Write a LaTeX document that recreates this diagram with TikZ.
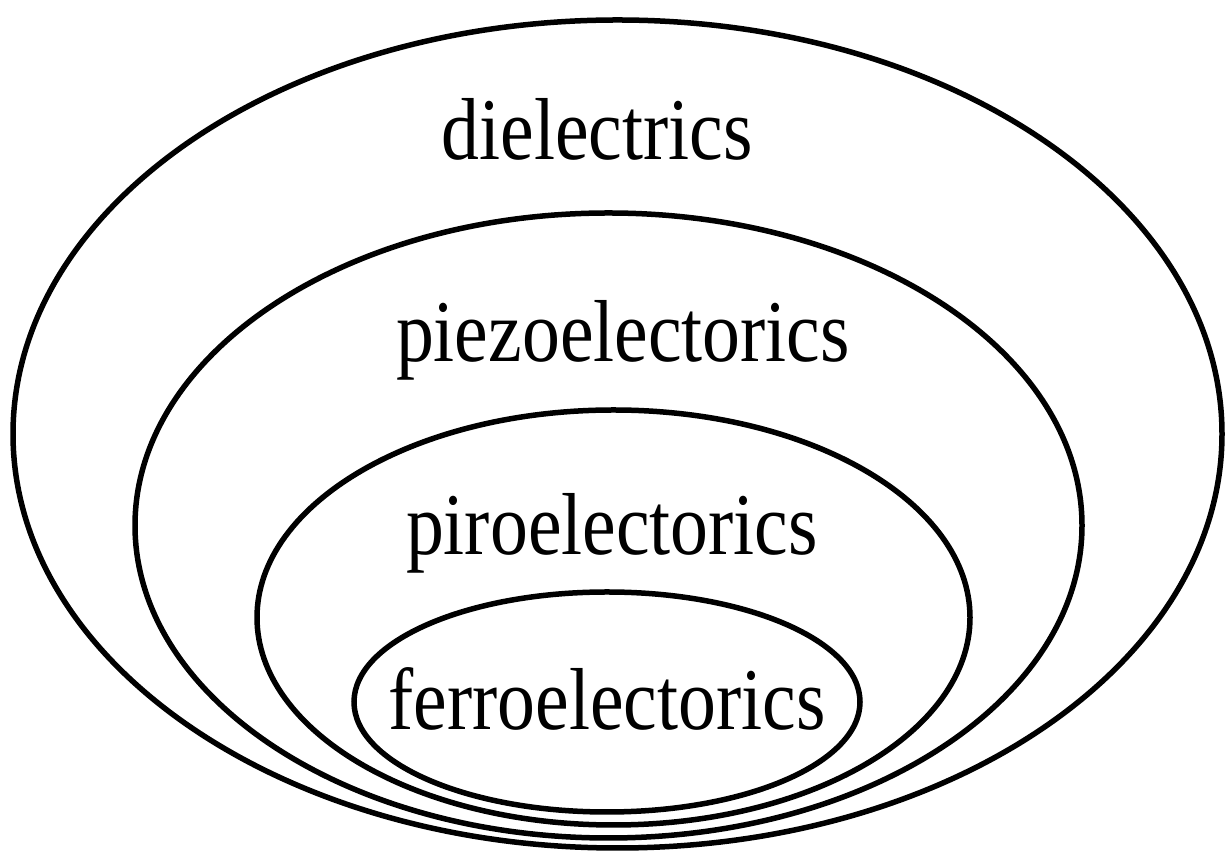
\documentclass[tikz,border=0pt]{standalone}
\usepackage{fontspec}
\setmainfont{Liberation Serif}
\newfontfamily\labelfont[FakeStretch=0.86]{Liberation Serif}
\begin{document}
\begin{tikzpicture}[x=1pt,y=1pt,
  ring/.style={line width=5.5pt,draw=black},
  label/.style={anchor=base,inner sep=0pt,font=\labelfont\fontsize{88}{100}\selectfont}]
\useasboundingbox (0,0) rectangle (1226,853);
% y_tikz = 853 - y_image
\draw[ring] (617.5,419) ellipse [x radius=604.5, y radius=414];
\draw[ring] (608.5,327.5) ellipse [x radius=473.5, y radius=312.5];
\draw[ring] (613.5,235.5) ellipse [x radius=356.5, y radius=207.5];
\draw[ring] (607,151) ellipse [x radius=253, y radius=110];
\node[label] (diel) at (597,693) {dielectrics};
\node[label] (piezo) at (623,491) {piezoelectorics};
\node[label] (piro) at (612,298) {piroelectorics};
\node[label] (ferro) at (607,123) {ferroelectorics};
\end{tikzpicture}
\end{document}
